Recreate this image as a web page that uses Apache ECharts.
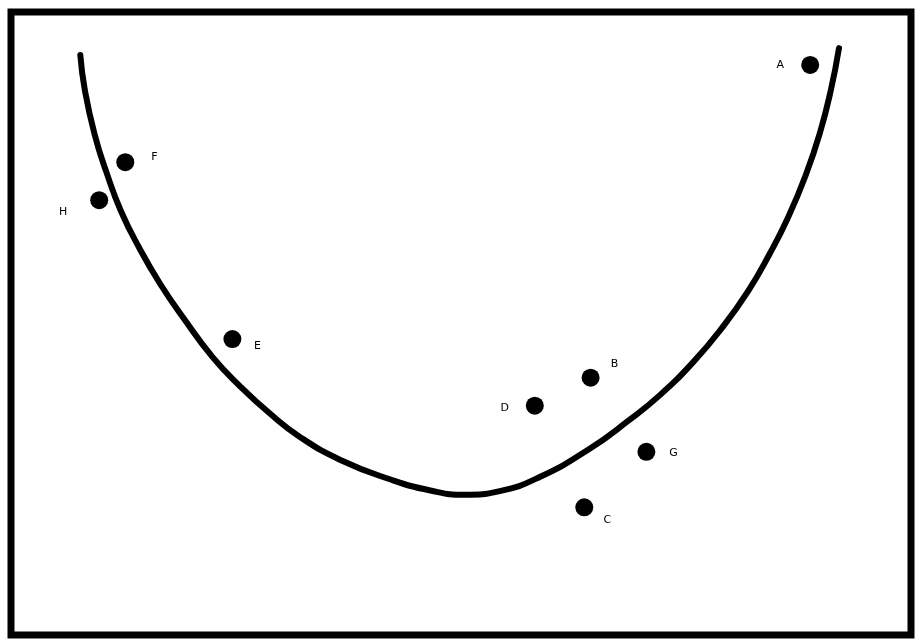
<!DOCTYPE html>
<html>
<head>
<meta charset="utf-8">
<script src="https://cdn.jsdelivr.net/npm/echarts@6/dist/echarts.min.js"></script>
<style>html,body{margin:0;padding:0;background:#fff}#c{width:917px;height:642px}</style>
</head>
<body>
<div id="c"></div>
<script>
// Labelled points
const pointNames = ['A', 'F', 'H', 'E', 'B', 'D', 'G', 'C'];
const pointX = [88.8, 12.7, 9.8, 24.6, 64.4, 58.2, 70.6, 63.7];
const pointY = [91.5, 75.9, 69.8, 47.5, 41.3, 36.8, 29.4, 20.5];

// U-shaped curve
const curveX = [7.7, 8.2, 9.3, 10.6, 12.2, 14.3, 16.6, 19.3, 22.4, 25.4, 28.8, 32.1, 36.6, 42.1, 46.6, 50.4,
                54.3, 58.8, 64.3, 68.6, 72.1, 75.8, 79.0, 81.9, 84.3, 86.3, 88.3, 89.9, 91.1, 92.0];
const curveY = [93.1, 87.5, 80.3, 74.3, 68.1, 62.0, 56.3, 50.6, 44.6, 40.0, 35.5, 31.8, 28.1, 25.0, 23.2, 22.5,
                23.1, 25.4, 29.9, 34.4, 38.5, 43.8, 49.3, 55.2, 61.2, 66.9, 73.8, 80.7, 87.5, 94.2];

// label placement (style, not data)
const labelOffsets = {
  A: [-30, 0], F: [29, -5], H: [-36, 12], E: [25, 7],
  B: [24, -14], D: [-30, 2], G: [27, 1], C: [23, 13]
};

const chart = echarts.init(document.getElementById('c'), null, {renderer: 'canvas'});
const hidden = {
  axisLine: {show: false}, axisTick: {show: false},
  axisLabel: {show: false}, splitLine: {show: false}
};
chart.setOption({
  animation: false,
  backgroundColor: '#fff',
  grid: {
    left: 11, right: 6, top: 12, bottom: 7,
    show: true, borderColor: '#000', borderWidth: 7, backgroundColor: '#fff'
  },
  xAxis: Object.assign({type: 'value', min: 0, max: 100}, hidden),
  yAxis: Object.assign({type: 'value', min: 0, max: 100}, hidden),
  series: [
    {
      type: 'line',
      data: curveX.map((x, i) => [x, curveY[i]]),
      smooth: 0.5,
      showSymbol: false,
      lineStyle: {color: '#000', width: 6, cap: 'round', join: 'round'},
      z: 2
    },
    {
      type: 'scatter',
      data: pointNames.map((n, i) => ({
        name: n,
        value: [pointX[i], pointY[i]],
        label: {offset: labelOffsets[n]}
      })),
      symbol: 'circle',
      symbolSize: 18,
      itemStyle: {color: '#000', opacity: 1},
      label: {
        show: true,
        position: 'inside',
        formatter: p => p.name,
        color: '#000',
        fontFamily: 'DejaVu Sans',
        fontSize: 11
      },
      z: 3
    }
  ]
});
</script>
</body>
</html>
